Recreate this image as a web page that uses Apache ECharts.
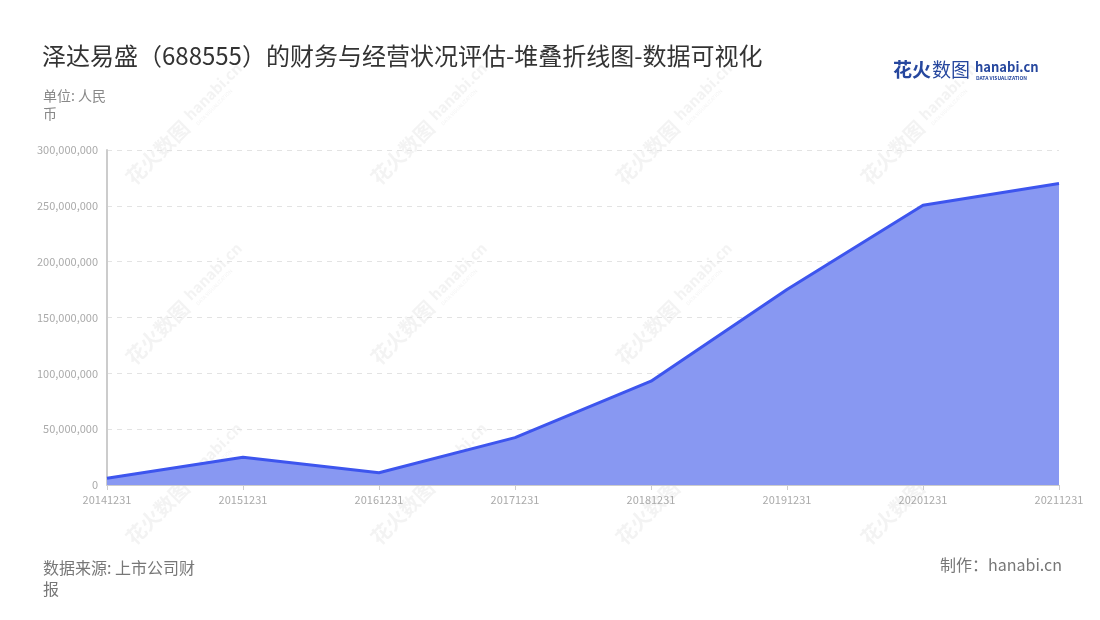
<!DOCTYPE html>
<html>
<head>
<meta charset="utf-8">
<script src="https://cdn.jsdelivr.net/npm/echarts@6/dist/echarts.min.js"></script>
<style>
  html, body { margin: 0; padding: 0; background: #fff; }
  #main { width: 1100px; height: 620px; }
</style>
</head>
<body>
<div id="main"></div>
<script>
// 泽达易盛 财务数据 (单位: 人民币)
var dates = ['20141231', '20151231', '20161231', '20171231', '20181231', '20191231', '20201231', '20211231'];
var values = [6000000, 24800000, 11000000, 42400000, 93000000, 175000000, 250500000, 270000000];
var yTicks = { min: 0, max: 300000000, interval: 50000000 };

var chart = echarts.init(document.getElementById('main'));
var font = '"Noto Sans CJK SC", "Noto Sans", sans-serif';

// 背景水印
var wm = 'rgba(180,180,180,0.16)';
var marks = [];
[130, 310, 490].forEach(function (cy) {
    [180, 425, 670, 915].forEach(function (cx) {
        marks.push({
            type: 'group',
            x: cx, y: cy,
            rotation: Math.PI / 4,
            z: 100,
            silent: true,
            children: [
                { type: 'text', x: -72, y: 0, style: { text: '花火数图', font: 'bold 20px ' + font, fill: wm, verticalAlign: 'middle' } },
                { type: 'text', x: 14, y: -4, style: { text: 'hanabi.cn', font: 'bold 15px ' + font, fill: wm, verticalAlign: 'middle' } },
                { type: 'text', x: 16, y: 8, style: { text: 'DATA VISUALIZATION', font: '5px ' + font, fill: wm, verticalAlign: 'middle' } }
            ]
        });
    });
});

option = {
    backgroundColor: '#fff',
    title: [
        {
            text: '泽达易盛（688555）的财务与经营状况评估-堆叠折线图-数据可视化',
            left: 37, top: 39,
            textStyle: { fontFamily: font, fontSize: 24, fontWeight: 'normal', color: '#333' }
        },
        {
            text: '单位: 人民币',
            left: 38, top: 82,
            textStyle: { fontFamily: font, fontSize: 14, fontWeight: 'normal', color: '#888', width: 70, overflow: 'break', lineHeight: 18 }
        },
        {
            text: '数据来源: 上市公司财报',
            left: 38, top: 552,
            textStyle: { fontFamily: font, fontSize: 16, fontWeight: 'normal', color: '#777', width: 165, overflow: 'break', lineHeight: 21 }
        },
        {
            text: '制作：hanabi.cn',
            right: 33, top: 552,
            textStyle: { fontFamily: font, fontSize: 16, fontWeight: 'normal', color: '#777' }
        }
    ],
    graphic: marks.concat([
        { type: 'text', left: 893, top: 60, style: { text: '花火', font: 'bold 19px ' + font, fill: '#26479e' } },
        { type: 'text', left: 932, top: 60, style: { text: '数图', font: 'normal 19px ' + font, fill: '#26479e' } },
        { type: 'text', left: 975, top: 61, style: { text: 'hanabi.cn', font: 'bold 13px ' + font, fill: '#26479e' } },
        { type: 'text', left: 976, top: 76, style: { text: 'DATA VISUALIZATION', font: 'bold 5px ' + font, fill: '#26479e' } }
    ]),
    tooltip: { trigger: 'axis' },
    grid: { left: 107, right: 41, top: 150, bottom: 135 },
    xAxis: {
        type: 'category',
        boundaryGap: false,
        data: dates,
        axisLine: { lineStyle: { color: '#ccc' } },
        axisTick: { show: true, lineStyle: { color: '#ccc' } },
        axisLabel: { color: '#aaa', fontSize: 11, fontFamily: font, margin: 9, interval: 0 }
    },
    yAxis: {
        type: 'value',
        min: yTicks.min, max: yTicks.max, interval: yTicks.interval,
        axisLine: { show: true, lineStyle: { color: '#ccc', width: 2 } },
        axisTick: { show: false },
        axisLabel: {
            color: '#aaa', fontSize: 11, fontFamily: font, margin: 9,
            formatter: function (v) { return v.toLocaleString('en-US'); }
        },
        splitLine: { lineStyle: { color: '#e3e3e3', type: [5, 5] } }
    },
    series: [
        {
            name: '泽达易盛',
            type: 'line',
            stack: 'total',
            data: values,
            symbol: 'none',
            lineStyle: { color: '#3d55ee', width: 3 },
            itemStyle: { color: '#3d55ee' },
            areaStyle: { color: '#8898f2', opacity: 1 }
        }
    ]
};
chart.setOption(option);
</script>
</body>
</html>
